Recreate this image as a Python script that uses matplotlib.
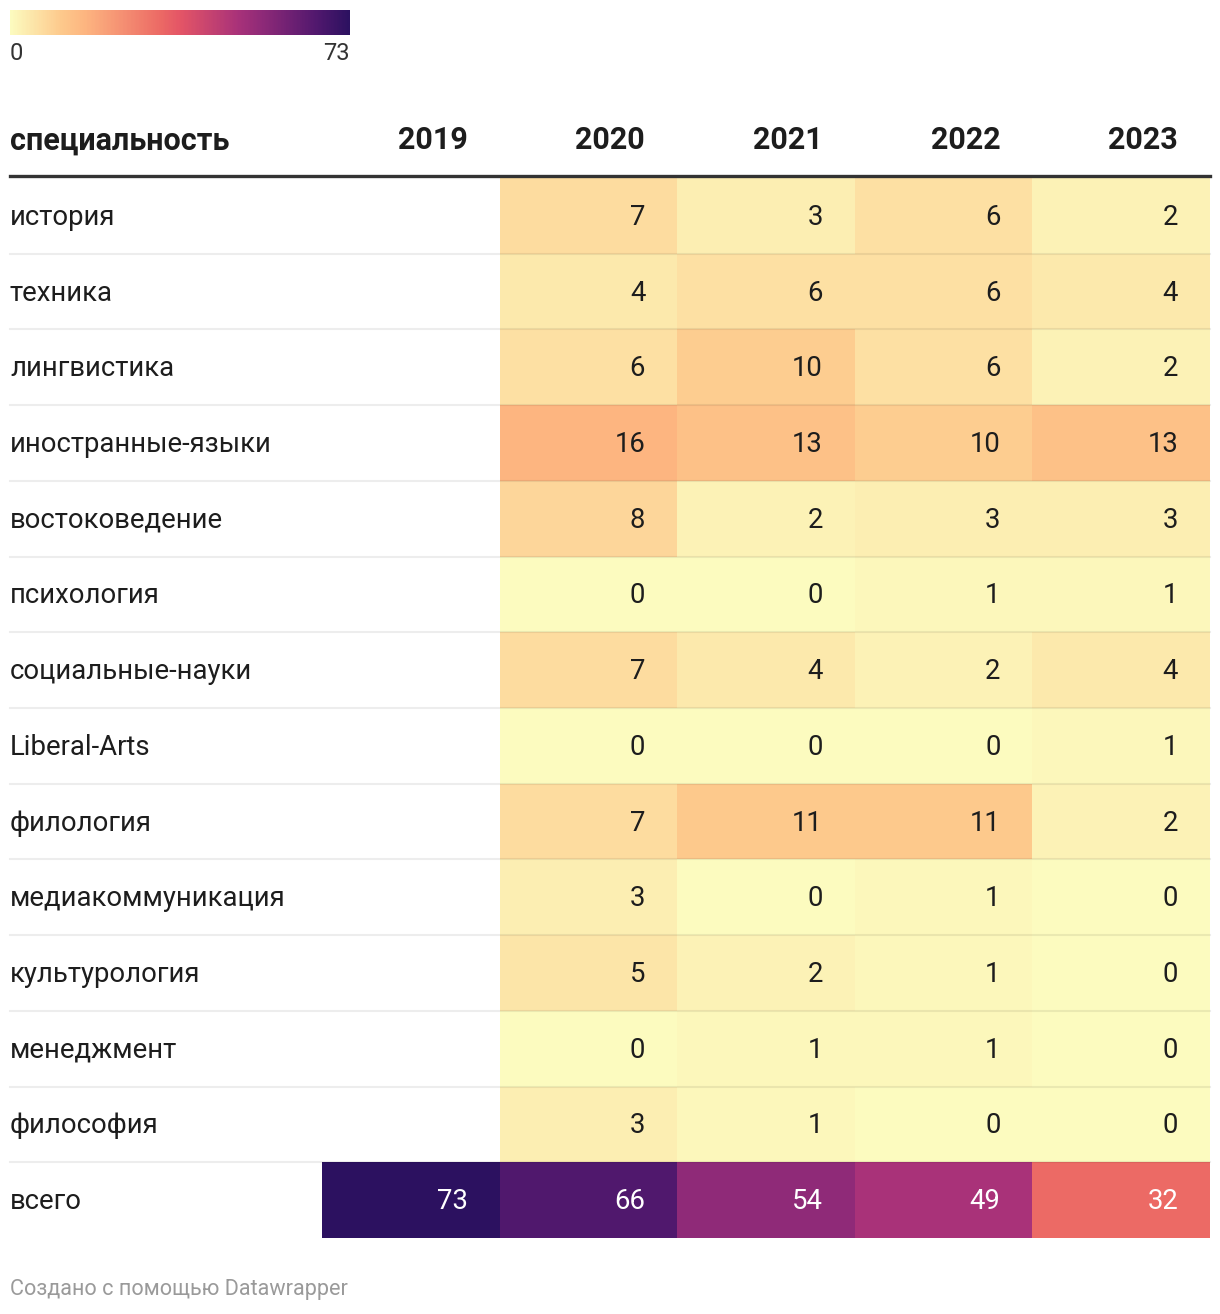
import numpy as np
import matplotlib
matplotlib.use("Agg")
import matplotlib.pyplot as plt
from matplotlib.colors import LinearSegmentedColormap, Normalize
from matplotlib.cm import ScalarMappable

plt.rcParams['font.family'] = ['Roboto', 'DejaVu Sans']

years = ["2019", "2020", "2021", "2022", "2023"]
categories = ["история", "техника", "лингвистика", "иностранные-языки", "востоковедение",
              "психология", "социальные-науки", "Liberal-Arts", "филология",
              "медиакоммуникация", "культурология", "менеджмент", "философия", "всего"]
v2019 = [None] * 13 + [73]
v2020 = [7, 4, 6, 16, 8, 0, 7, 0, 7, 3, 5, 0, 3, 66]
v2021 = [3, 6, 10, 13, 2, 0, 4, 0, 11, 0, 2, 1, 1, 54]
v2022 = [6, 6, 6, 10, 3, 1, 2, 0, 11, 1, 1, 1, 0, 49]
v2023 = [2, 4, 2, 13, 3, 1, 4, 1, 2, 0, 0, 0, 0, 32]
header_label = "специальность"
vmin, vmax = 0, 73

cols = [v2019, v2020, v2021, v2022, v2023]
data = np.array([[np.nan if c[i] is None else c[i] for c in cols] for i in range(len(categories))], dtype=float)
masked = np.ma.masked_invalid(data)

cmap = LinearSegmentedColormap.from_list("dw", [
    (0.0, "#fcfbbf"), (0.15, "#fdc98c"), (0.22, "#fdb580"), (0.44, "#ec6a65"),
    (0.5, "#e45566"), (0.67, "#a93279"), (0.74, "#8f2a78"), (0.9, "#52186e"),
    (1.0, "#2c1160")])
norm = Normalize(vmin, vmax)

W, H = 1220, 1314
fig = plt.figure(figsize=(W / 100, H / 100), dpi=100)

# table axes
x0, x1, y0, y1 = 322, 1210, 178, 1238
ax = fig.add_axes([x0 / W, 1 - y1 / H, (x1 - x0) / W, (y1 - y0) / H])
nrows, ncols = data.shape
ax.pcolormesh(np.arange(ncols + 1), np.arange(nrows + 1), masked, cmap=cmap, norm=norm)
ax.set_xlim(0, ncols)
ax.set_ylim(nrows, 0)
ax.axis("off")

colw_px = (x1 - x0) / ncols
pad = 32 / colw_px
lab_x = (10 - x0) / (x1 - x0)
ytr = ax.get_yaxis_transform()

for i in range(nrows):
    ax.text(lab_x, i + 0.52, categories[i], transform=ytr, ha="left", va="center",
            fontsize=19.8, color="#1d1d1d")
    for j in range(ncols):
        v = data[i, j]
        if np.isnan(v):
            continue
        ax.text(j + 1 - pad, i + 0.52, f"{int(v)}", ha="right", va="center", fontsize=19.8,
                color="white" if v > 25 else "#1d1d1d")

for i in range(1, nrows):
    ax.axhline(i, xmin=lab_x, xmax=1, color="black", alpha=0.07, lw=1.5, clip_on=False)
ax.axhline(-0.02, xmin=lab_x, xmax=1, color="#333333", lw=2.4, clip_on=False)

# header
ax.text(lab_x, -0.5, header_label, transform=ytr, ha="left", va="center",
        fontsize=22, fontweight="bold", color="#1d1d1d")
for j, yr in enumerate(years):
    ax.text(j + 1 - pad, -0.5, yr, ha="right", va="center", fontsize=22,
            fontweight="bold", color="#1d1d1d")

# colorbar legend
cax = fig.add_axes([10 / W, 1 - 35 / H, 340 / W, 25 / H])
cb = fig.colorbar(ScalarMappable(norm=norm, cmap=cmap), cax=cax, orientation="horizontal")
cb.outline.set_visible(False)
cb.set_ticks([vmin, vmax])
cax.tick_params(length=0, pad=5, labelsize=17, labelcolor="#333333")
for lbl, ha in zip(cax.get_xticklabels(), ["left", "right"]):
    lbl.set_ha(ha)

fig.text(10 / W, 1 - 1290 / H, "Создано с помощью Datawrapper", ha="left", va="center",
         fontsize=15.6, color="#9a9a9a")

fig.savefig("out.png", dpi=100)
